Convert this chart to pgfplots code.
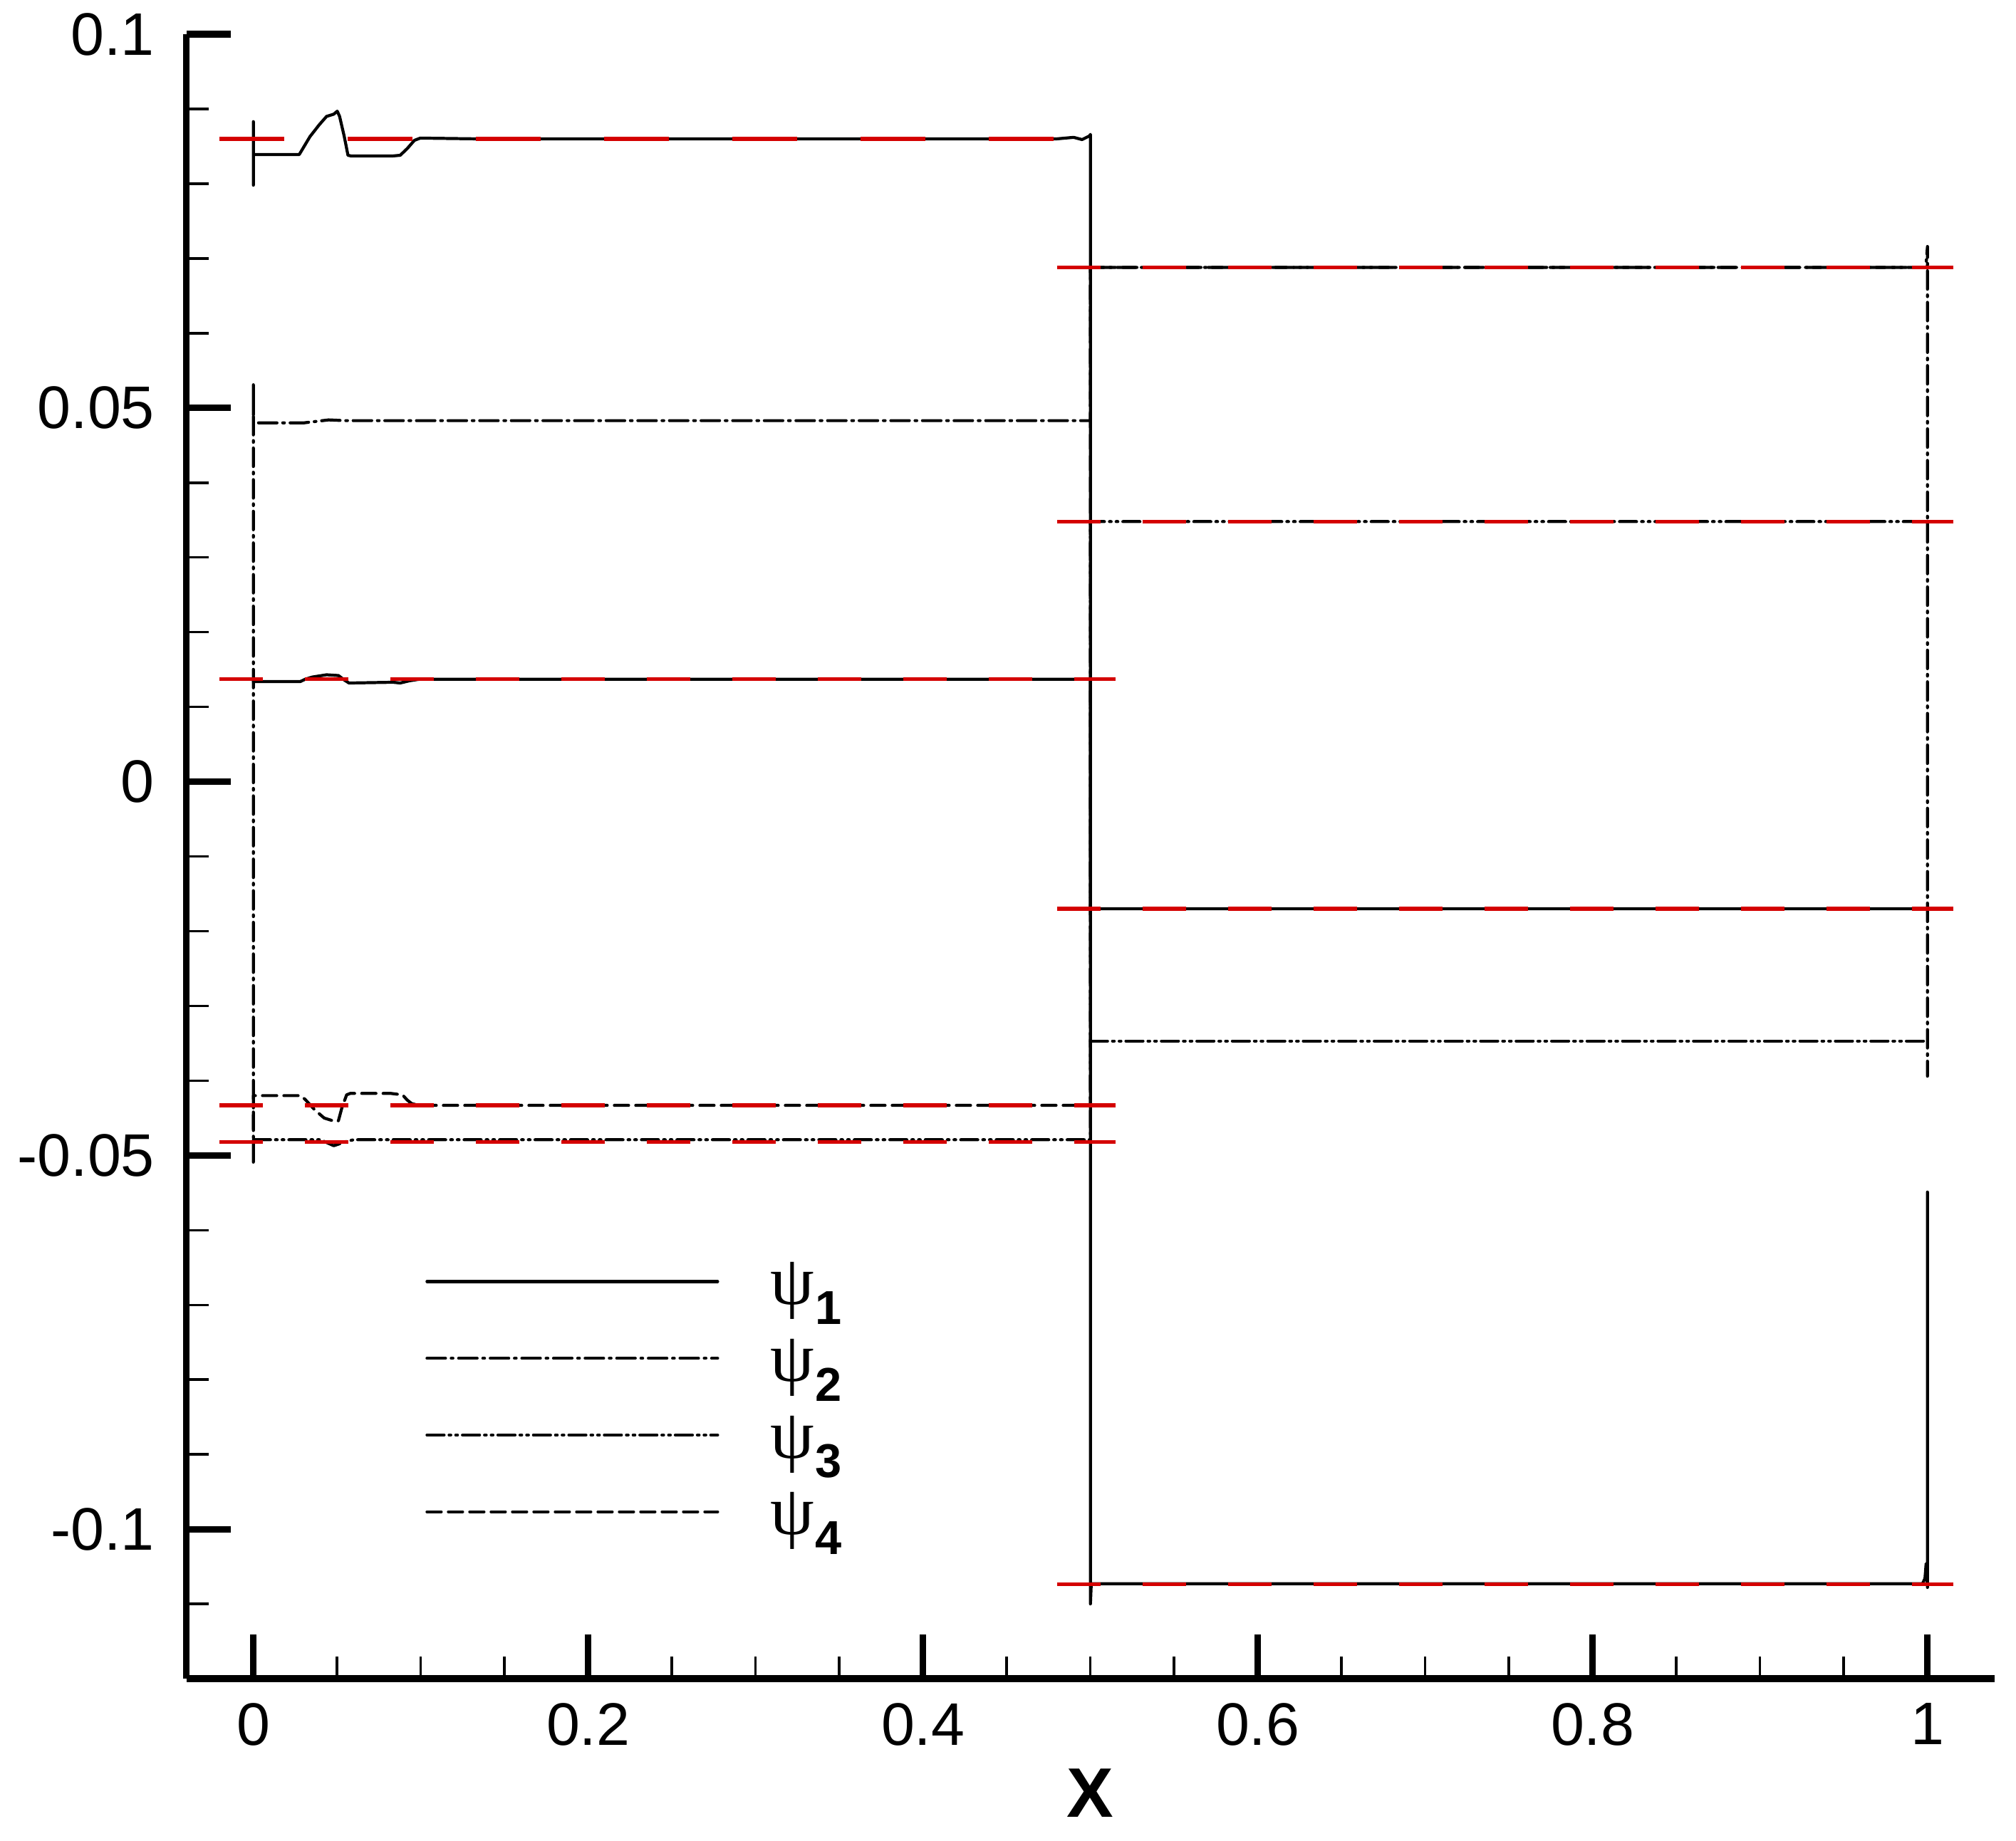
\documentclass[border=0pt]{standalone}
\usepackage{fontspec}
\setmainfont{Liberation Sans}
\newfontfamily\symbolfont{Liberation Serif}
\usepackage{pgfplots}
\pgfplotsset{compat=1.18}
\definecolor{refred}{RGB}{212,0,0}
\newcommand{\psilab}[1]{{\symbolfont\fontsize{14}{16}\selectfont ψ}\kern0.2pt\raisebox{-0.75ex}{\fontsize{9.5}{11}\selectfont\bfseries #1}}
\begin{document}
\begin{tikzpicture}
\begin{axis}[
 scale only axis, width=12.69cm, height=11.545cm,
 xmin=-0.04, xmax=1.04, ymin=-0.12, ymax=0.1,
 axis lines=left,
 axis line style={-, line width=1.3pt},
 every outer x axis line/.append style={-},
 every outer y axis line/.append style={-},
 tick align=inside,
 xtick={0,0.2,0.4,0.6,0.8,1}, xticklabels={0,0.2,0.4,0.6,0.8,1},
 ytick={-0.1,-0.05,0,0.05,0.1}, yticklabels={-0.1,-0.05,0,0.05,0.1},
 minor xtick={0.05,0.1,0.15,0.25,0.3,0.35,0.45,0.5,0.55,0.65,0.7,0.75,0.85,0.9,0.95},
 minor ytick={-0.11,-0.09,-0.08,-0.07,-0.06,-0.04,-0.03,-0.02,-0.01,0.01,0.02,0.03,0.04,0.06,0.07,0.08,0.09},
 major tick length=0.31cm, minor tick length=0.155cm,
 major tick style={line width=1.3pt, black},
 minor tick style={line width=0.5pt, black},
 ticklabel style={font=\fontsize{12}{14}\selectfont},
 xticklabel style={yshift=-0.05cm},
 yticklabel style={xshift=-0.1cm},
 xlabel={X},
 xlabel style={font=\fontsize{14}{16}\selectfont\bfseries, at={(axis description cs:0.5,0)}, anchor=center, yshift=-0.805cm},
 legend style={draw=none, fill=none, at={(axis cs:0.1028,-0.0642)}, anchor=north west, inner sep=0pt, outer sep=0pt, row sep=0.139cm, column sep=0.36cm, nodes={inner sep=0pt, text height=0.3cm, text depth=0.1cm}},
 legend cell align=left,
 legend image code/.code={\draw[#1] (0cm,0.06cm) -- (2.04cm,0.06cm);},
 every axis plot/.append style={line width=0.6pt, line cap=round, line join=round},
]
% psi1 solid
\addplot[black, solid] coordinates {(0,0.0883) (0,0.0798) (0,0.0839) (0.0274,0.0839) (0.0338,0.0863) (0.0394,0.0879) (0.0437,0.0890) (0.0480,0.0893) (0.0501,0.0897) (0.0515,0.0890) (0.0543,0.0863) (0.0565,0.0838) (0.0586,0.0837) (0.0827,0.0837) (0.0877,0.0838) (0.0919,0.0847) (0.0962,0.0858) (0.0997,0.0861) (0.133,0.0860) (0.48,0.0860) (0.49,0.0862) (0.495,0.0859) (0.4995,0.0864) (0.5,0.0866) (0.5,-0.1100) (0.5005,-0.1073) (0.997,-0.1073) (0.9985,-0.1066) (0.9992,-0.1046) (1.0,-0.1078) (1.0,-0.0549)};
% psi2 dash-dot
\addplot[black, dash pattern=on 0.13cm off 0.04cm on 0.012cm off 0.04cm] coordinates {(0,-0.0509) (0,0.0532) (0,0.0480) (0.03,0.0480) (0.045,0.0484) (0.055,0.0483) (0.5,0.0483) (0.5,0.0688) (0.999,0.0688) (1,0.0716) (1,-0.0394)};
% psi3 dash-dot-dot
\addplot[black, dash pattern=on 0.12cm off 0.035cm on 0.012cm off 0.035cm on 0.012cm off 0.035cm] coordinates {(0,-0.0479) (0.04,-0.0479) (0.048,-0.0487) (0.056,-0.0481) (0.06,-0.0479) (0.5,-0.0479) (0.5,0.0348) (1.0,0.0348)};
% psi4 dashed
\addplot[black, dash pattern=on 0.1cm off 0.05cm] coordinates {(0,-0.0465) (0,-0.0420) (0.0281,-0.0420) (0.0309,-0.0425) (0.0366,-0.0439) (0.0423,-0.0450) (0.0494,-0.0455) (0.0508,-0.04535) (0.0529,-0.0436) (0.0557,-0.0419) (0.0579,-0.0417) (0.0820,-0.0417) (0.0891,-0.0419) (0.0919,-0.0426) (0.0948,-0.0431) (0.1,-0.0433) (0.5,-0.0433) (0.5,0.0688) (1.0,0.0688)};
% second solid curve
\addplot[black, solid, forget plot] coordinates {(0,0.0134) (0.0281,0.0134) (0.0309,0.0137) (0.0352,0.0140) (0.0437,0.0143) (0.0508,0.0142) (0.0543,0.0136) (0.0571,0.0132) (0.0834,0.0133) (0.0877,0.0132) (0.0933,0.0135) (0.099,0.0137) (0.5,0.0137) (0.5,-0.0170) (1.0,-0.0170)};
% extra dash-dot-dot on right
\addplot[black, forget plot, dash pattern=on 0.12cm off 0.035cm on 0.012cm off 0.035cm on 0.012cm off 0.035cm] coordinates {(0.5,-0.0347) (1.0,-0.0347)};
% exact solutions (red dashed)
\addplot[refred, forget plot, line width=0.75pt, line cap=butt, dash pattern=on 0.455cm off 0.445cm] coordinates {(-0.0204,0.0860) (0.515,0.0860)};
\addplot[refred, forget plot, line width=0.75pt, line cap=butt, dash pattern=on 0.305cm off 0.295cm] coordinates {(-0.0204,0.0137) (0.515,0.0137)};
\addplot[refred, forget plot, line width=0.75pt, line cap=butt, dash pattern=on 0.305cm off 0.295cm] coordinates {(-0.0204,-0.0433) (0.515,-0.0433)};
\addplot[refred, forget plot, line width=0.75pt, line cap=butt, dash pattern=on 0.305cm off 0.295cm] coordinates {(-0.0204,-0.0482) (0.515,-0.0482)};
\addplot[refred, forget plot, line width=0.75pt, line cap=butt, dash pattern=on 0.305cm off 0.295cm] coordinates {(0.48,0.0688) (1.0155,0.0688)};
\addplot[refred, forget plot, line width=0.75pt, line cap=butt, dash pattern=on 0.305cm off 0.295cm] coordinates {(0.48,0.0348) (1.0155,0.0348)};
\addplot[refred, forget plot, line width=0.75pt, line cap=butt, dash pattern=on 0.305cm off 0.295cm] coordinates {(0.48,-0.0170) (1.0155,-0.0170)};
\addplot[refred, forget plot, line width=0.75pt, line cap=butt, dash pattern=on 0.305cm off 0.295cm] coordinates {(0.48,-0.1074) (1.0155,-0.1074)};
\legend{\psilab{1},\psilab{2},\psilab{3},\psilab{4}}
\end{axis}
\pgfresetboundingbox
\path[use as bounding box] ([shift={(-1.3085cm,-1.135cm)}]current axis.south west) rectangle ([shift={(12.8415cm,11.785cm)}]current axis.south west);
\end{tikzpicture}
\end{document}
